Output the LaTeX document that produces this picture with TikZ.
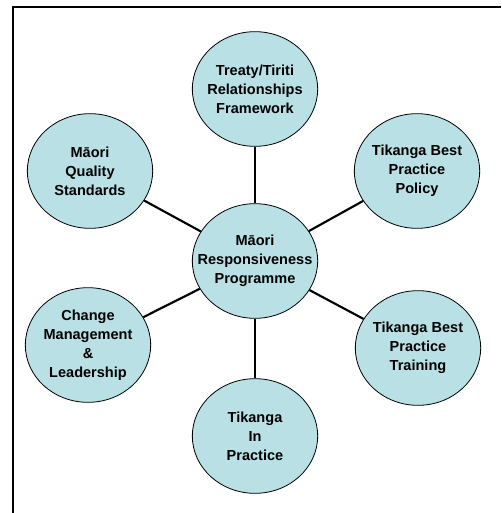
\documentclass[tikz,border=0pt]{standalone}
\usepackage{fontspec}
\setmainfont{Liberation Sans}
\definecolor{bubble}{RGB}{185,224,228}
\tikzset{
  topic/.style={ellipse, draw=black, line width=0.6pt, fill=bubble, align=center,
    minimum width=94pt, minimum height=86pt, inner xsep=-10pt, inner ysep=0pt,
    font=\fontsize{10.9}{14.3}\selectfont\bfseries},
  spoke/.style={line width=1.6pt}
}
\usetikzlibrary{shapes.geometric}

\begin{document}
\begin{tikzpicture}[x=0.75pt, y=-0.75pt]
\useasboundingbox (0,0) rectangle (501,513);
%frame
\draw[line width=2.2pt] (13,513)--(13,7)--(501,7);

%bubbles
\node[topic] (prog) at (255,261) {Māori\\Responsiveness\\Programme};
\node[topic] (treaty) at (255,89) {Treaty/Tiriti\\Relationships\\Framework};
\node[topic] (quality) at (90,171) {Māori\\Quality\\Standards};
\node[topic] (policy) at (417,171) {Tikanga Best\\Practice\\Policy};
\node[topic] (training) at (418,348) {Tikanga Best\\Practice\\Training};
\node[topic] (change) at (88,345) {Change\\Management\\\&\\Leadership};
\node[topic] (inpractice) at (255,436) {Tikanga\\In\\Practice};

%spokes
\foreach \n in {treaty, quality, policy, training, change, inpractice}
  \draw[spoke] (prog)--(\n);

\end{tikzpicture}
\end{document}
